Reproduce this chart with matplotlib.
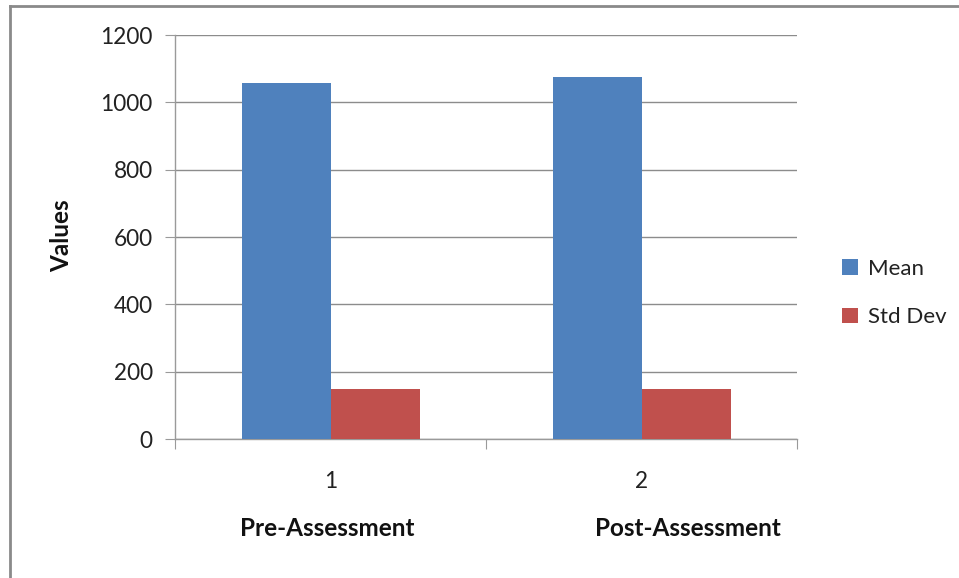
import matplotlib
matplotlib.use("Agg")
import matplotlib.pyplot as plt
from matplotlib.lines import Line2D
from matplotlib.patches import Patch
import numpy as np

categories = ["1", "2"]
group_labels = ["Pre-Assessment", "Post-Assessment"]
series_names = ["Mean", "Std Dev"]
mean_values = [1057, 1076]
std_values = [149, 149]
y_ticks = [0, 200, 400, 600, 800, 1000, 1200]

colors = ["#4F81BD", "#C0504D"]
FONT = ["Lato", "DejaVu Sans"]
plt.rcParams['font.family'] = FONT

W, H = 959, 578
fig = plt.figure(figsize=(W / 100, H / 100), dpi=100)

# plot area in pixels
L, R, T, B = 175, 797, 35, 439
ax = fig.add_axes([L / W, 1 - B / H, (R - L) / W, (B - T) / H])

x = np.arange(len(categories))
bw = 89 / 311
ax.bar(x - bw / 2, mean_values, width=bw, color=colors[0], zorder=3)
ax.bar(x + bw / 2, std_values, width=bw, color=colors[1], zorder=3)

ax.set_xlim(-0.5, len(categories) - 0.5)
ax.set_ylim(0, 1200)
ax.set_yticks(y_ticks)
ax.set_yticklabels([str(v) for v in y_ticks], fontsize=16.3, color="#222222")
ax.yaxis.grid(True, color="#8C8C8C", linewidth=1.0, zorder=0)
ax.set_axisbelow(True)

for s in ["top", "right"]:
    ax.spines[s].set_visible(False)
for s in ["left", "bottom"]:
    ax.spines[s].set_color("#9A9A9A")
    ax.spines[s].set_linewidth(1.0)

ax.tick_params(axis="y", length=7, color="#9A9A9A", pad=9)
# x: major ticks at category boundaries, labels at centers
ax.set_xticks(np.arange(-0.5, len(categories), 1.0))
ax.set_xticklabels([])
ax.set_xticks(x, minor=True)
ax.set_xticklabels(categories, minor=True, fontsize=16.3, color="#222222")
ax.tick_params(axis="x", which="major", length=7, color="#9A9A9A")
ax.tick_params(axis="x", which="minor", length=0, pad=23)

# group labels
for xi, lab in zip(x, group_labels):
    px = [327, 688][int(xi)]
    fig.text(px / W, 1 - 528 / H, lab, ha="center", va="center",
             fontsize=17.5, fontweight="bold", color="#111111")

fig.text(62 / W, 1 - 236 / H, "Values", rotation=90, ha="center", va="center",
         fontsize=17.5, fontweight="bold", color="#111111")

handles = [Patch(facecolor=c, edgecolor="none") for c in colors]
leg = fig.legend(handles, series_names, loc="center left",
                 bbox_to_anchor=(822 / W, 1 - 293 / H), frameon=False,
                 fontsize=16, handlelength=0.7, handleheight=0.7,
                 handletextpad=0.45, labelspacing=1.3)
for t in leg.get_texts():
    t.set_color("#222222")

# outer frame (left and top)
fig.add_artist(Line2D([10 / W, 10 / W], [0, 1 - 6 / H], transform=fig.transFigure,
                      color="#8A8A8A", linewidth=2))
fig.add_artist(Line2D([10 / W, 1], [1 - 6 / H, 1 - 6 / H], transform=fig.transFigure,
                      color="#8A8A8A", linewidth=2))

fig.savefig("out.png", dpi=100)
